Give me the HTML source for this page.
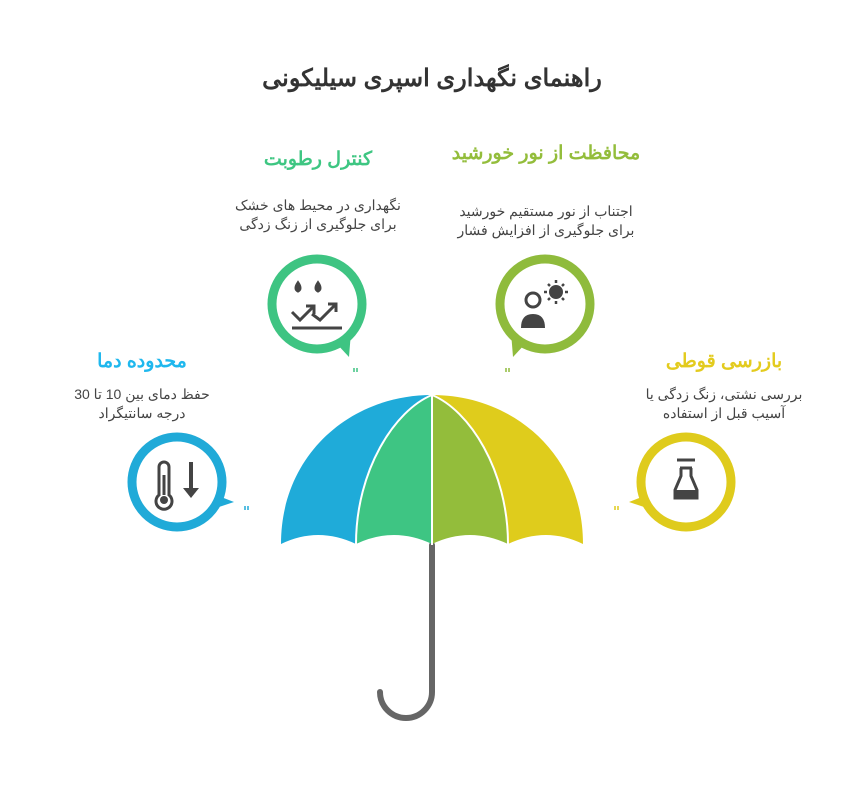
<!DOCTYPE html>
<html><head><meta charset="utf-8"><style>
body{margin:0;background:#fff;}
svg text{font-family:"Liberation Sans","Noto Sans CJK SC",sans-serif;}
</style></head><body>
<svg width="863" height="800" viewBox="0 0 863 800" xmlns="http://www.w3.org/2000/svg">
<text x="432" y="86" font-size="24" font-weight="bold" fill="#333" text-anchor="middle" direction="rtl">راهنمای نگهداری اسپری سیلیکونی</text>

<text x="318" y="165" font-size="19" font-weight="bold" fill="#3ec682" text-anchor="middle" direction="rtl">کنترل رطوبت</text>
<text x="318" y="210" font-size="14" fill="#444" text-anchor="middle" direction="rtl">نگهداری در محیط های خشک</text>
<text x="318" y="229" font-size="14" fill="#444" text-anchor="middle" direction="rtl">برای جلوگیری از زنگ زدگی</text>

<text x="546" y="159" font-size="19" font-weight="bold" fill="#93bd3b" text-anchor="middle" direction="rtl">محافظت از نور خورشید</text>
<text x="546" y="216" font-size="14" fill="#444" text-anchor="middle" direction="rtl">اجتناب از نور مستقیم خورشید</text>
<text x="546" y="235" font-size="14" fill="#444" text-anchor="middle" direction="rtl">برای جلوگیری از افزایش فشار</text>

<text x="142" y="367" font-size="19" font-weight="bold" fill="#1fb8ee" text-anchor="middle" direction="rtl">محدوده دما</text>
<text x="142" y="399" font-size="14" fill="#444" text-anchor="middle" direction="rtl">حفظ دمای بین 10 تا 30</text>
<text x="142" y="418" font-size="14" fill="#444" text-anchor="middle" direction="rtl">درجه سانتیگراد</text>

<text x="724" y="367" font-size="19" font-weight="bold" fill="#e3cb1e" text-anchor="middle" direction="rtl">بازرسی قوطی</text>
<text x="724" y="399" font-size="14" fill="#444" text-anchor="middle" direction="rtl">بررسی نشتی، زنگ زدگی یا</text>
<text x="724" y="418" font-size="14" fill="#444" text-anchor="middle" direction="rtl">آسیب قبل از استفاده</text>

<!-- bubbles -->
<g fill="#fff" stroke-width="9">
<circle cx="317" cy="304" r="45" stroke="#3ec482"/>
<path d="M336,343 L349,357 L351,332 Z" fill="#3ec482" stroke="none"/>
<circle cx="545" cy="304" r="45" stroke="#8fbb3c"/>
<path d="M526,343 L513,357 L511,332 Z" fill="#8fbb3c" stroke="none"/>
<circle cx="177" cy="482" r="45" stroke="#20aad8"/>
<path d="M216,495 L234,502 L210,510 Z" fill="#20aad8" stroke="none"/>
<circle cx="686" cy="482" r="45" stroke="#dfcb1c"/>
<path d="M647,495 L629,502 L653,510 Z" fill="#dfcb1c" stroke="none"/>
</g>
<!-- icons -->
<g fill="#444" stroke="#444">
<path d="M298,283 q-4,6 0,8 q4,-2 0,-8z" stroke-width="3"/>
<path d="M318,283 q-4,6 0,8 q4,-2 0,-8z" stroke-width="3"/>
<g fill="none" stroke-width="3"><path d="M292,312 l8,8 l14,-14 M306,306 h8 v8 M312,314 l8,6 l16,-16 M328,304 h8 v8"/><path d="M292,328 h50"/></g>
<circle cx="533" cy="300" r="7" stroke-width="3" fill="none"/>
<path d="M521,328 q0,-14 12,-14 q12,0 12,14z" stroke="none"/>
<circle cx="556" cy="292" r="7" stroke="none"/>
<g stroke-width="2.5"><path d="M556,280v3M556,301v3M544,292h3M565,292h3M548,284l2,2M562,298l2,2M548,300l2,-2M562,286l2,-2"/></g>
<path d="M159,495 v-28 a5,5 0 0 1 10,0 v28 a8,8 0 1 1 -10,0z" fill="none" stroke-width="3"/>
<circle cx="164" cy="500" r="4" stroke="none"/><path d="M164,495v-20" stroke-width="3"/>
<path d="M191,462v28" stroke-width="4"/><path d="M183,488 h16 l-8,10z" stroke="none"/>
<g fill="none" stroke-width="3"><path d="M677,460h18M680,468h12M681,468v8l-6,14v8h22v-8l-6,-14v-8"/></g>
<path d="M676,490h20v8h-20z" stroke="none"/>
</g>
<g fill="none" stroke-width="1.5">
<path d="M354,368v4M357,368v4" stroke="#3ec482"/><path d="M506,368v4M509,368v4" stroke="#8fbb3c"/>
<path d="M245,506v4M248,506v4" stroke="#20aad8"/><path d="M615,506v4M618,506v4" stroke="#dfcb1c"/>
</g>
<!-- handle -->
<path d="M432,545 V692 A26,26 0 0 1 380,692" fill="none" stroke="#666" stroke-width="6" stroke-linecap="round"/>
<!-- canopy -->
<path d="M281,544 C281,455 350,395 432,395 C395,410 356,470 356,544 Q318,526 281,544Z" fill="#1fabd9"/>
<path d="M432,395 C395,410 356,470 356,544 Q394,526 432,544Z" fill="#3ec583"/>
<path d="M432,395 C469,410 508,470 508,544 Q470,526 432,544Z" fill="#93bd3b"/>
<path d="M583,544 C583,455 514,395 432,395 C469,410 508,470 508,544 Q546,526 583,544Z" fill="#dfcc1c"/>
<g fill="none" stroke="#fff" stroke-width="2"><path d="M432,395 C395,410 356,470 356,544"/><path d="M432,395 C469,410 508,470 508,544"/><path d="M432,395V545"/></g>
</svg>
</body></html>
